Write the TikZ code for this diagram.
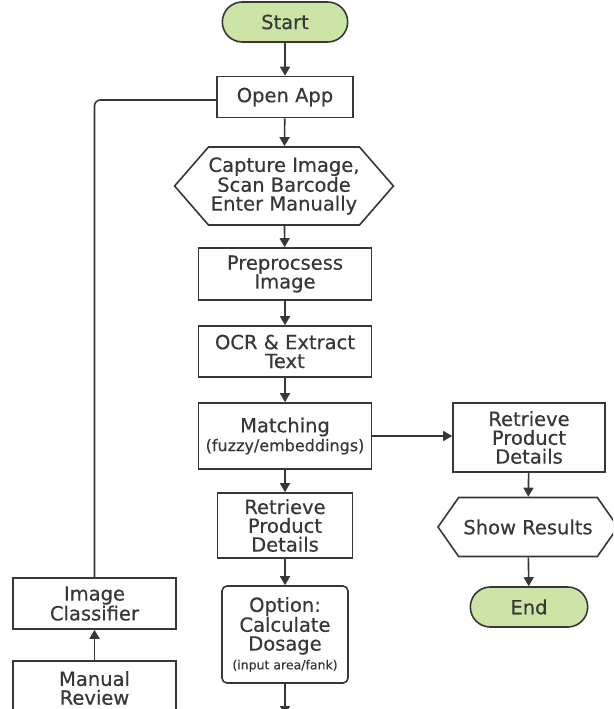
\documentclass[tikz,border=0pt]{standalone}
\usepackage{fontspec}
\setmainfont{DejaVu Sans}[FakeBold=0.4]
\usepackage{xcolor}
\definecolor{ink}{RGB}{55,55,55}
\definecolor{leaf}{RGB}{204,229,166}
\usetikzlibrary{arrows.meta,positioning,shapes.misc,shapes.symbols}

\begin{document}
\begin{tikzpicture}[x=1pt,y=-1pt,
  box/.style={rectangle,draw=ink,line width=1.6pt,fill=white,inner sep=2pt,
              align=center,text=ink,font=\fontsize{19.5}{18.8}\selectfont},
  term/.style={rounded rectangle,draw=ink,line width=1.6pt,fill=leaf,
               minimum height=40pt,text=ink,font=\fontsize{19.5}{18.8}\selectfont},
  hex/.style={signal,signal to=east and west,draw=ink,line width=1.6pt,fill=white,
              inner sep=0pt,align=center,text=ink,font=\fontsize{19.5}{18.8}\selectfont},
  arr/.style={draw=ink,line width=1.6pt,-{Triangle[length=9pt,width=10pt]}},
]
  \path[use as bounding box,clip] (0,0) rectangle (613,709);
  \fill[white] (0,0) rectangle (613,709);

  %% main column
  \node[term,minimum width=132pt] (start) at (285,22) {Start};
  \node[box,minimum width=136pt,minimum height=41pt] (openapp) at (285,97) {Open App};
  \node[hex,minimum width=207pt,minimum height=78pt,signal pointer angle=98] (capture) at (284,186)
    {Capture Image,\\Scan Barcode\\Enter Manually};
  \node[box,minimum width=173pt,minimum height=52pt] (preproc) at (285,274) {Preprocsess\\Image};
  \node[box,minimum width=173pt,minimum height=51pt] (ocr) at (285,351.5) {OCR \& Extract\\Text};
  \node[box,minimum width=173pt,minimum height=66pt] (match) at (285,436)
    {Matching\\{\fontsize{16}{19}\selectfont(fuzzy/embeddings)}};
  \node[box,minimum width=135pt,minimum height=65pt] (retrieve) at (285,525.5) {Retrieve\\Product\\Details};
  \node[box,rounded corners=5pt,minimum width=126pt,minimum height=97pt] (option) at (285,634.5)
    {Option:\\Calculate\\Dosage\\{\fontsize{12.5}{20}\selectfont(input area/fank)}};
  \coordinate (more) at (285,715);

  %% right column
  \node[box,minimum width=152pt,minimum height=69pt] (retrright) at (529,437.5) {Retrieve\\Product\\Details};
  \node[hex,minimum width=180pt,minimum height=59pt,signal pointer angle=110] (show) at (528,527) {Show Results};
  \node[term,minimum width=124pt] (stop) at (529,607) {End};

  %% left column
  \node[box,minimum width=163pt,minimum height=51pt] (classifier) at (94.5,603.5) {Image\\Classifier};
  \node[box,minimum width=163pt,minimum height=54pt] (review) at (94.5,688) {Manual\\Review};

  %% connectors
  \draw[arr] (start) -- (openapp);
  \draw[arr] (openapp) -- (capture);
  \draw[arr] (capture) -- (preproc);
  \draw[arr] (preproc) -- (ocr);
  \draw[arr] (ocr) -- (match);
  \draw[arr] (match) -- (retrieve);
  \draw[arr] (retrieve) -- (option);
  \draw[arr] (option) -- (more);
  \draw[arr] (match.east) -- (match.east -| retrright.west);
  \draw[arr] (retrright) -- (show);
  \draw[arr] (show) -- (stop);
  \draw[arr] (review) -- (classifier);
  \draw[draw=ink,line width=1.6pt,rounded corners=6pt] (classifier.north) |- ([yshift=-3pt]openapp.west);
\end{tikzpicture}
\end{document}
